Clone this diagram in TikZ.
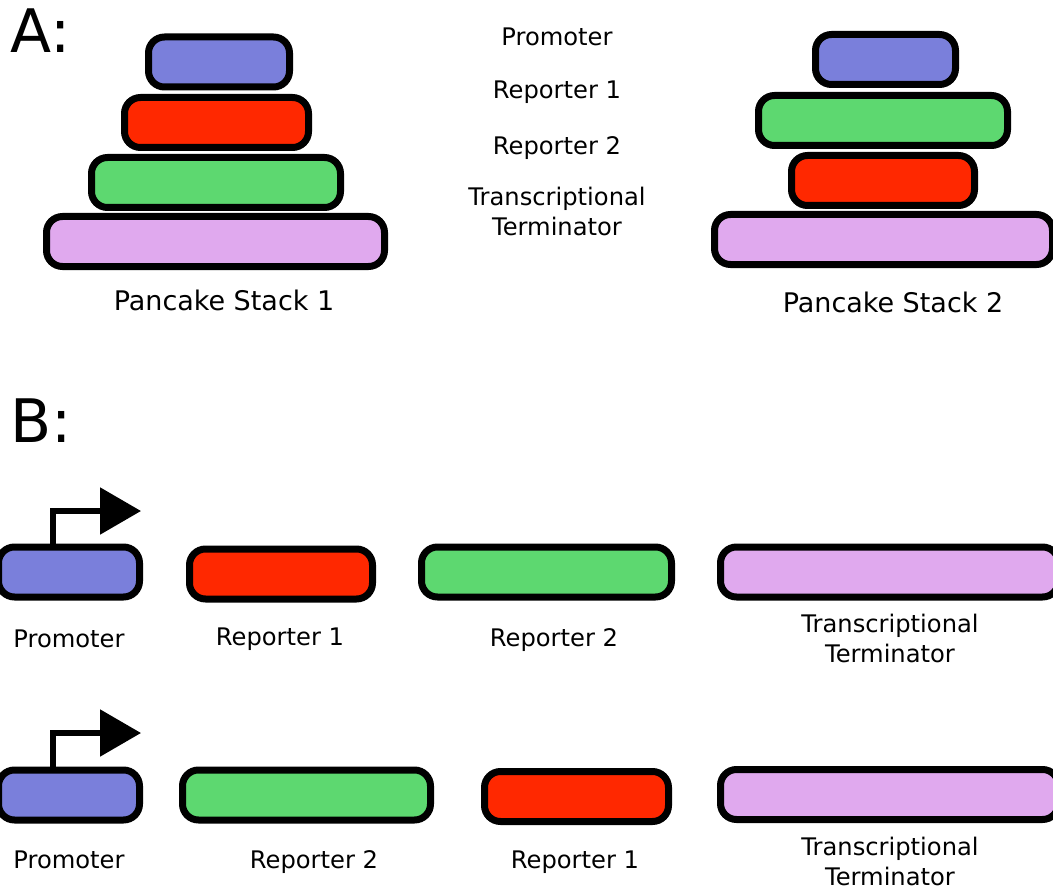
\documentclass[tikz,border=0pt]{standalone}
\usepackage{fontspec}
\setmainfont{DejaVu Sans}
\usetikzlibrary{arrows.meta}
\definecolor{promblue}{RGB}{122,127,219}
\definecolor{repred}{RGB}{255,40,0}
\definecolor{repgreen}{RGB}{93,216,112}
\definecolor{termviolet}{RGB}{224,169,238}
\tikzset{
	part/.style={draw=black, line width=7pt, rounded corners=16pt, inner sep=0pt, minimum height=50pt},
	lbl/.style={font=\fontsize{24.2}{30}\selectfont, inner sep=0pt, anchor=base, align=center},
	stacklbl/.style={font=\fontsize{27}{32}\selectfont, inner sep=0pt, anchor=base},
	panel/.style={font=\fontsize{60}{70}\selectfont, inner sep=0pt, anchor=base west},
	promarrow/.style={line width=5.5pt, -{Triangle[length=41pt,width=46pt]}}
}

\begin{document}
\begin{tikzpicture}[x=1pt,y=-1pt]
	\useasboundingbox (0,0) rectangle (1053,888);

	% A: the two stacks
	\node[panel] (pa) at (10,53) {A:};
	\node[part, fill=promblue, minimum width=141pt] (s1p) at (219,62) {};
	\node[part, fill=repred, minimum width=184pt] (s1r1) at (216.5,122.5) {};
	\node[part, fill=repgreen, minimum width=249pt] (s1r2) at (216,182.5) {};
	\node[part, fill=termviolet, minimum width=338pt] (s1t) at (215.5,241.5) {};
	\node[stacklbl] (s1lbl) at (224,310) {Pancake Stack 1};

	\node[part, fill=promblue, minimum width=140pt] (s2p) at (885.5,59.5) {};
	\node[part, fill=repgreen, minimum width=249pt] (s2r2) at (883,120.5) {};
	\node[part, fill=repred, minimum width=183pt] (s2r1) at (883,180.5) {};
	\node[part, fill=termviolet, minimum width=338pt] (s2t) at (883.5,239.5) {};
	\node[stacklbl] (s2lbl) at (893,312) {Pancake Stack 2};

	\node[lbl] (kp) at (557,46) {Promoter};
	\node[lbl] (kr1) at (557,99) {Reporter 1};
	\node[lbl] (kr2) at (557,155) {Reporter 2};
	\node[lbl] (kt) at (557,235) {Transcriptional\\Terminator};

	% B: the two constructs
	\node[panel] (pb) at (10,442) {B:};

	\node[part, fill=promblue, minimum width=141pt] (c1p) at (69,572) {};
	\node[part, fill=repred, minimum width=183pt] (c1r1) at (281,574) {};
	\node[part, fill=repgreen, minimum width=250pt] (c1r2) at (546.5,572) {};
	\node[part, fill=termviolet, minimum width=338pt] (c1t) at (889.5,572) {};
	\coordinate (c1tip) at (141,511);
	\draw[promarrow] ([xshift=-16pt]c1p.north) |- (c1tip);
	\node[lbl] (c1pl) at (69,647) {Promoter};
	\node[lbl] (c1r1l) at (280,645) {Reporter 1};
	\node[lbl] (c1r2l) at (554,646) {Reporter 2};
	\node[lbl] (c1tl) at (890,662) {Transcriptional\\Terminator};

	\node[part, fill=promblue, minimum width=141pt] (c2p) at (69,795) {};
	\node[part, fill=repgreen, minimum width=248pt] (c2r2) at (306.5,795) {};
	\node[part, fill=repred, minimum width=184pt] (c2r1) at (576.5,796.5) {};
	\node[part, fill=termviolet, minimum width=338pt] (c2t) at (889.5,794.5) {};
	\coordinate (c2tip) at (141,733);
	\draw[promarrow] ([xshift=-16pt]c2p.north) |- (c2tip);
	\node[lbl] (c2pl) at (69,868) {Promoter};
	\node[lbl] (c2r2l) at (314,868) {Reporter 2};
	\node[lbl] (c2r1l) at (575,868) {Reporter 1};
	\node[lbl] (c2tl) at (890,885) {Transcriptional\\Terminator};
\end{tikzpicture}
\end{document}
